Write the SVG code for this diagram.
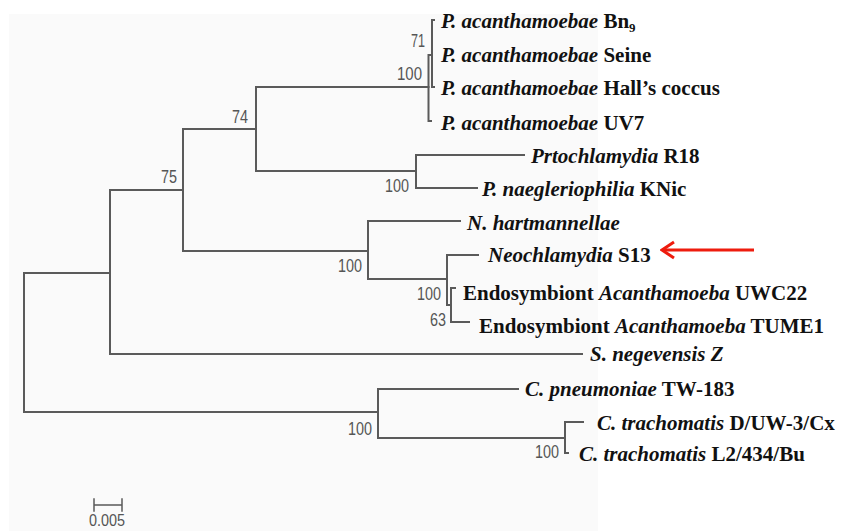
<svg xmlns="http://www.w3.org/2000/svg" width="841" height="531" viewBox="0 0 841 531">
  <style>
    .br { fill: none; stroke: #5a5a5a; stroke-width: 2; stroke-linecap: square; }
    .leaf { font-family: "Liberation Serif", "Times New Roman", serif; font-size: 21px; font-weight: bold; fill: #111; }
    .leaf .sp { font-style: italic; }
    .bs { font-family: "Liberation Sans", Arial, sans-serif; font-size: 18px; fill: #555; text-anchor: end; }
    .scale { font-family: "Liberation Sans", Arial, sans-serif; font-size: 17px; fill: #555; text-anchor: middle; }
  </style>
  <defs>
    <marker id="chev" viewBox="0 0 16 20" refX="14" refY="10" markerWidth="16" markerHeight="20" markerUnits="userSpaceOnUse" orient="auto">
      <path d="M2 2 L14 10 L2 18" fill="none" stroke="#ee1c0e" stroke-width="3"/>
    </marker>
  </defs>

  <!-- panel background -->
  <rect x="9" y="14" width="589" height="517" fill="#fafafa"/>

  <!-- tree branches -->
  <g id="connectors" class="br">
    <!-- root -->
    <path d="M24 273 V412 M24 273 H110 M24 412 H378"/>
    <!-- ingroup -->
    <path d="M110 190 V354 M110 190 H183 M110 354 H582"/>
    <path d="M183 129 V251 M183 129 H256 M183 251 H368"/>
    <!-- Parachlamydia clade -->
    <path d="M256 87 V171 M256 87 H428.5 M256 171 H416"/>
    <path d="M428.5 55 V121 M428.5 55 H432 M428.5 121 H431 M432 20 V87 M432 20 H434 M432 87 H434"/>
    <path d="M416 155 V188 M416 155 H524 M416 188 H477"/>
    <!-- Neochlamydia clade -->
    <path d="M368 221 V279 M368 221 H460 M368 279 H447"/>
    <path d="M447 255 V305 M447 255 H478 M447 305 H451"/>
    <path d="M451 288 V322 M451 288 H455 M451 322 H469"/>
    <!-- Chlamydiaceae -->
    <path d="M378 389 V438 M378 389 H518 M378 438 H565"/>
    <path d="M565 422 V453 M565 422 H583 M565 453 H568"/>
  </g>

  <!-- bootstrap values -->
  <g id="bootstrap">
    <text class="bs" x="425" y="47" textLength="14" lengthAdjust="spacingAndGlyphs">71</text>
    <text class="bs" x="422" y="80" textLength="25" lengthAdjust="spacingAndGlyphs">100</text>
    <text class="bs" x="248" y="123" textLength="16" lengthAdjust="spacingAndGlyphs">74</text>
    <text class="bs" x="177" y="183" textLength="16" lengthAdjust="spacingAndGlyphs">75</text>
    <text class="bs" x="409" y="192" textLength="24" lengthAdjust="spacingAndGlyphs">100</text>
    <text class="bs" x="362" y="272" textLength="24" lengthAdjust="spacingAndGlyphs">100</text>
    <text class="bs" x="441" y="300" textLength="24" lengthAdjust="spacingAndGlyphs">100</text>
    <text class="bs" x="446" y="326" textLength="16" lengthAdjust="spacingAndGlyphs">63</text>
    <text class="bs" x="372" y="435" textLength="24" lengthAdjust="spacingAndGlyphs">100</text>
    <text class="bs" x="559" y="458" textLength="24" lengthAdjust="spacingAndGlyphs">100</text>
  </g>

  <!-- taxa -->
  <g id="taxon-bn9"><text class="leaf" x="441" y="28"><tspan class="sp">P. acanthamoebae</tspan> Bn<tspan font-size="13" dy="4">9</tspan></text></g>
  <g id="taxon-seine"><text class="leaf" x="441" y="62"><tspan class="sp">P. acanthamoebae</tspan> Seine</text></g>
  <g id="taxon-halls"><text class="leaf" x="441" y="95"><tspan class="sp">P. acanthamoebae</tspan> Hall’s coccus</text></g>
  <g id="taxon-uv7"><text class="leaf" x="441" y="130"><tspan class="sp">P. acanthamoebae</tspan> UV7</text></g>
  <g id="taxon-r18"><text class="leaf" x="531" y="163"><tspan class="sp">Prtochlamydia</tspan> R18</text></g>
  <g id="taxon-knic"><text class="leaf" x="482" y="196"><tspan class="sp">P. naegleriophilia</tspan> KNic</text></g>
  <g id="taxon-nhart"><text class="leaf" x="467" y="230"><tspan class="sp">N. hartmannellae</tspan></text></g>
  <g id="taxon-s13"><text class="leaf" x="488" y="262"><tspan class="sp">Neochlamydia</tspan> S13</text></g>
  <g id="taxon-uwc22"><text class="leaf" x="463" y="300">Endosymbiont <tspan class="sp">Acanthamoeba</tspan> UWC22</text></g>
  <g id="taxon-tume1"><text class="leaf" x="479" y="333">Endosymbiont <tspan class="sp">Acanthamoeba</tspan> TUME1</text></g>
  <g id="taxon-snege"><text class="leaf" x="590" y="361"><tspan class="sp">S. negevensis Z</tspan></text></g>
  <g id="taxon-cpn"><text class="leaf" x="525" y="396"><tspan class="sp">C. pneumoniae</tspan> TW-183</text></g>
  <g id="taxon-ctd"><text class="leaf" x="597" y="430"><tspan class="sp">C. trachomatis</tspan> D/UW-3/Cx</text></g>
  <g id="taxon-ctl2"><text class="leaf" x="579" y="461"><tspan class="sp">C. trachomatis</tspan> L2/434/Bu</text></g>

  <!-- pointer to Neochlamydia S13 -->
  <g id="pointer">
    <path d="M754 250 H662" fill="none" stroke="#ee1c0e" stroke-width="3" marker-end="url(#chev)"/>
  </g>

  <!-- scale bar -->
  <g id="scalebar" class="br" style="stroke-width:1.5">
    <path d="M94 505 H122 M94 499 V511 M122 499 V511"/>
  </g>
  <text class="scale" x="107" y="526" textLength="36" lengthAdjust="spacingAndGlyphs">0.005</text>
</svg>
